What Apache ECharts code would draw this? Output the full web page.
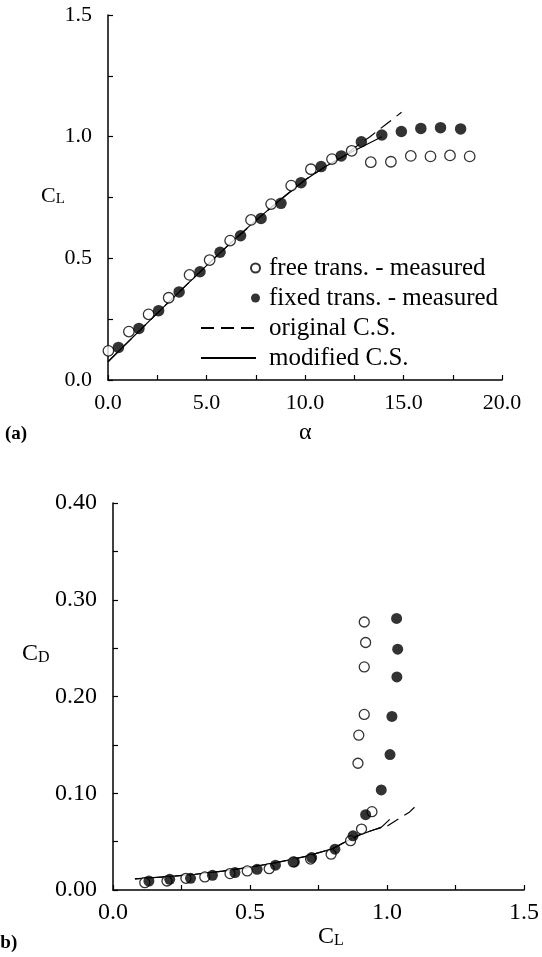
<!DOCTYPE html>
<html>
<head>
<meta charset="utf-8">
<script src="https://cdn.jsdelivr.net/npm/echarts@6/dist/echarts.min.js"></script>
<style>
html, body { margin: 0; padding: 0; background: #fff; }
#chart { width: 542px; height: 957px; }
</style>
</head>
<body>
<div id="chart"></div>
<script>
// (a) lift curve: CL vs alpha
var liftFree = [
  [0.02, 0.12], [1.06, 0.199], [2.06, 0.27], [3.08, 0.338], [4.14, 0.432],
  [5.16, 0.493], [6.2, 0.573], [7.26, 0.658], [8.28, 0.723], [9.3, 0.799],
  [10.3, 0.866], [11.37, 0.908], [12.37, 0.942], [13.34, 0.895], [14.36, 0.897],
  [15.37, 0.921], [16.37, 0.919], [17.36, 0.923], [18.36, 0.919]
]
var liftFixed = [
  [0.53, 0.134], [1.57, 0.212], [2.57, 0.285], [3.61, 0.362], [4.67, 0.445],
  [5.69, 0.525], [6.73, 0.593], [7.77, 0.664], [8.78, 0.726], [9.8, 0.811],
  [10.82, 0.877], [11.84, 0.921], [12.86, 0.979], [13.9, 1.007], [14.89, 1.021],
  [15.88, 1.034], [16.88, 1.037], [17.9, 1.032]
]
var liftOriginal = [
  [0, 0.075], [2, 0.235], [4, 0.392], [6, 0.546], [8, 0.69], [10, 0.822],
  [11, 0.875], [12, 0.922], [12.6, 0.96], [13.3, 1.0], [14.1, 1.05], [14.9, 1.1]
]
var liftModified = [
  [0, 0.075], [1, 0.155], [2, 0.235], [3, 0.314], [4, 0.392], [5, 0.47],
  [6, 0.546], [7, 0.62], [8, 0.69], [9, 0.758], [10, 0.822], [11, 0.875],
  [12, 0.922], [13, 0.963], [13.9, 1.0]
]

// (b) drag polar: CD vs CL
var dragFree = [
  [0.116, 0.0076], [0.197, 0.0093], [0.266, 0.0121], [0.335, 0.0135], [0.427, 0.017],
  [0.49, 0.0197], [0.57, 0.022], [0.658, 0.029], [0.721, 0.032], [0.796, 0.037],
  [0.867, 0.051], [0.907, 0.063], [0.945, 0.081], [0.894, 0.131], [0.897, 0.16],
  [0.917, 0.1815], [0.917, 0.2306], [0.922, 0.2558], [0.917, 0.277]
]
var dragFixed = [
  [0.131, 0.0093], [0.207, 0.011], [0.283, 0.0121], [0.363, 0.0152], [0.445, 0.018],
  [0.526, 0.0214], [0.593, 0.0256], [0.662, 0.029], [0.725, 0.0335], [0.81, 0.0422],
  [0.876, 0.056], [0.922, 0.0778], [0.979, 0.1034], [1.011, 0.14], [1.018, 0.1794],
  [1.036, 0.2202], [1.039, 0.2489], [1.035, 0.2807]
]
var dragOriginal = [
  [0.08, 0.0115], [0.2, 0.0138], [0.3, 0.0163], [0.4, 0.0195], [0.5, 0.0235],
  [0.6, 0.0285], [0.7, 0.0345], [0.8, 0.0425], [0.85, 0.05], [0.9, 0.057],
  [0.95, 0.062], [1.0, 0.066], [1.05, 0.075], [1.08, 0.08], [1.115, 0.0895]
]
var dragModified = [
  [0.08, 0.0115], [0.2, 0.0138], [0.3, 0.0163], [0.4, 0.0195], [0.5, 0.0235],
  [0.6, 0.0285], [0.7, 0.0345], [0.8, 0.0425], [0.85, 0.05], [0.9, 0.057],
  [0.95, 0.062], [0.98, 0.065], [1.01, 0.073]
]

var names = ['free trans. - measured', 'fixed trans. - measured', 'original C.S.', 'modified C.S.']
var font = 'Liberation Serif'

var chart = echarts.init(document.getElementById('chart'))

function axisBase(fontSize, margin, digits) {
  return {
    type: 'value',
    axisLine: { lineStyle: { color: '#000', width: 1.5 } },
    axisTick: { inside: true, length: 5, lineStyle: { color: '#000', width: 1.2 } },
    minorTick: { show: true, splitNumber: 2, length: 5, lineStyle: { color: '#000', width: 1.2 } },
    splitLine: { show: false },
    axisLabel: {
      color: '#000', fontFamily: font, fontSize: fontSize, margin: margin,
      formatter: function (v) { return v.toFixed(digits) }
    }
  }
}

function openDots(data, xi, size) {
  return {
    name: names[0], type: 'scatter', xAxisIndex: xi, yAxisIndex: xi, data: data,
    symbol: 'circle', symbolSize: size,
    itemStyle: { color: '#fff', borderColor: '#000', borderWidth: 1.3 }, z: 4
  }
}
function fullDots(data, xi, size) {
  return {
    name: names[1], type: 'scatter', xAxisIndex: xi, yAxisIndex: xi, data: data,
    symbol: 'circle', symbolSize: size,
    itemStyle: { color: '#000', borderColor: '#000', borderWidth: 0 }, z: 5
  }
}
function curve(name, data, xi, dash) {
  return {
    name: name, type: 'line', xAxisIndex: xi, yAxisIndex: xi, data: data,
    symbol: 'none', smooth: false, silent: true,
    itemStyle: { color: '#000' },
    lineStyle: { color: '#000', width: 1.2, type: dash ? [13, 7] : 'solid' }, z: 3
  }
}

var xA = axisBase(22, 12, 1)
xA.gridIndex = 0; xA.min = 0; xA.max = 20; xA.interval = 5
var yA = axisBase(22, 16, 1)
yA.gridIndex = 0; yA.min = 0; yA.max = 1.5; yA.interval = 0.5
var xB = axisBase(24, 11, 1)
xB.gridIndex = 1; xB.min = 0; xB.max = 1.5; xB.interval = 0.5
var yB = axisBase(24, 16, 2)
yB.gridIndex = 1; yB.min = 0; yB.max = 0.4; yB.interval = 0.1

var option = {
  backgroundColor: '#fff',
  animation: false,
  grid: [
    { left: 108, top: 15, width: 394, height: 365 },
    { left: 113, top: 503, width: 412, height: 387 }
  ],
  xAxis: [xA, xB],
  yAxis: [yA, yB],
  legend: [
    {
      data: [names[0], names[1]],
      orient: 'vertical', left: 250, top: 253,
      itemWidth: 9, itemHeight: 9, itemGap: 0, padding: 0,
      textStyle: { fontFamily: font, fontSize: 25, color: '#000', lineHeight: 30, padding: [0, 0, 0, 4] },
      selectedMode: false
    },
    {
      data: [names[2], names[3]],
      orient: 'vertical', left: 200, top: 313,
      itemWidth: 55, itemHeight: 12, itemGap: 0, padding: 0,
      itemStyle: { color: 'rgba(0,0,0,0)', opacity: 0, borderWidth: 0 },
      textStyle: { fontFamily: font, fontSize: 25, color: '#000', lineHeight: 30, padding: [0, 0, 0, 8] },
      selectedMode: false
    }
  ],
  series: [
    curve(names[2], liftOriginal, 0, true),
    curve(names[3], liftModified, 0, false),
    openDots(liftFree, 0, 10.5),
    fullDots(liftFixed, 0, 11.5),
    curve(names[2], dragOriginal, 1, true),
    curve(names[3], dragModified, 1, false),
    openDots(dragFree, 1, 10),
    fullDots(dragFixed, 1, 11)
  ],
  graphic: [
    {
      type: 'text', left: 41, top: 185,
      style: {
        text: '{c|C}{s|L}', fill: '#000',
        rich: {
          c: { fontFamily: font, fontSize: 22, lineHeight: 22, verticalAlign: 'bottom' },
          s: { fontFamily: font, fontSize: 15, lineHeight: 22, verticalAlign: 'bottom' }
        }
      }
    },
    {
      type: 'text', left: 299, top: 421,
      style: { text: 'α', fill: '#000', fontFamily: font, fontSize: 24 }
    },
    {
      type: 'text', left: 5, top: 425,
      style: { text: '(a)', fill: '#000', fontFamily: font, fontSize: 19, fontWeight: 'bold' }
    },
    {
      type: 'text', left: 22, top: 642,
      style: {
        text: '{c|C}{s|D}', fill: '#000',
        rich: {
          c: { fontFamily: font, fontSize: 24, lineHeight: 24, verticalAlign: 'bottom' },
          s: { fontFamily: font, fontSize: 16, lineHeight: 24, verticalAlign: 'bottom' }
        }
      }
    },
    {
      type: 'text', left: 318, top: 925,
      style: {
        text: '{c|C}{s|L}', fill: '#000',
        rich: {
          c: { fontFamily: font, fontSize: 24, lineHeight: 24, verticalAlign: 'bottom' },
          s: { fontFamily: font, fontSize: 16, lineHeight: 24, verticalAlign: 'bottom' }
        }
      }
    },
    {
      type: 'text', left: -6, top: 934,
      style: { text: '(b)', fill: '#000', fontFamily: font, fontSize: 19, fontWeight: 'bold' }
    }
  ]
}

chart.setOption(option)
</script>
</body>
</html>
